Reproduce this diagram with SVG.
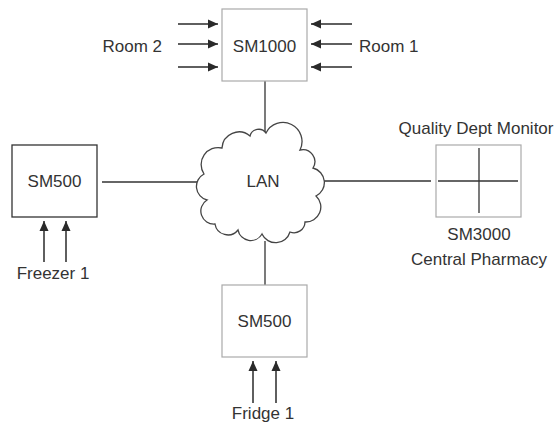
<svg xmlns="http://www.w3.org/2000/svg" width="560" height="424" viewBox="0 0 560 424">
<defs>
<marker id="ah" viewBox="0 0 10 10" refX="10" refY="5" markerWidth="10" markerHeight="10" markerUnits="userSpaceOnUse" orient="auto">
<path d="M0,0.5 L10,5 L0,9.5 Z" fill="#2a2a2a"/>
</marker>
</defs>
<style>
text{font-family:"Liberation Sans",Arial,sans-serif;font-size:17px;fill:#333}
.lt{fill:#fff;stroke:#aaa;stroke-width:1.2}
.dk{fill:#fff;stroke:#333;stroke-width:1.3}
.ln{stroke:#333;stroke-width:1.3;fill:none}
.ar{stroke:#2a2a2a;stroke-width:1.5;fill:none;marker-end:url(#ah)}
</style>
<rect width="560" height="424" fill="#fff"/>
<g id="connectors">
<line class="ln" x1="265" y1="81" x2="265" y2="133"/>
<line class="ln" x1="102" y1="182" x2="199" y2="182"/>
<line class="ln" x1="324" y1="181" x2="431" y2="181"/>
<line class="ln" x1="265" y1="241" x2="265" y2="285"/>
</g>
<g id="lan">
<path fill="#fff" stroke="#444" stroke-width="1.3" d="M222,148 A17,17 0 0 1 250,136 A9,9 0 0 1 266,133 A19,19 0 0 1 300,150 A12,12 0 0 1 313,168 A15,15 0 0 1 316,196 A15,15 0 0 1 305,222 A11,11 0 0 1 290,232 A15,15 0 0 1 262,234 A13,13 0 0 1 238,230 A13,13 0 0 1 215,224 A13,13 0 0 1 207,200 A14,14 0 0 1 204,174 A17,17 0 0 1 222,148 Z"/>
<text x="263" y="187" text-anchor="middle">LAN</text>
</g>
<g id="sm1000">
<rect class="lt" x="222" y="9" width="85" height="72"/>
<text x="264.5" y="52" text-anchor="middle">SM1000</text>
<line class="ar" x1="178" y1="24" x2="218" y2="24"/>
<line class="ar" x1="178" y1="44" x2="218" y2="44"/>
<line class="ar" x1="178" y1="67" x2="218" y2="67"/>
<line class="ar" x1="352" y1="24" x2="311" y2="24"/>
<line class="ar" x1="352" y1="44" x2="311" y2="44"/>
<line class="ar" x1="352" y1="67" x2="311" y2="67"/>
<text x="162" y="52" text-anchor="end">Room 2</text>
<text x="359" y="52">Room 1</text>
</g>
<g id="sm500-freezer">
<rect class="dk" x="12" y="145" width="85" height="72"/>
<text x="54.5" y="187" text-anchor="middle">SM500</text>
<line class="ar" x1="44" y1="262" x2="44" y2="221"/>
<line class="ar" x1="66" y1="262" x2="66" y2="221"/>
<text x="53" y="279" text-anchor="middle">Freezer 1</text>
</g>
<g id="sm3000">
<rect class="lt" x="436" y="145" width="85" height="72"/>
<line class="ln" x1="438" y1="181" x2="518" y2="181"/>
<line class="ln" x1="479" y1="148" x2="479" y2="213"/>
<text x="476" y="134" text-anchor="middle">Quality Dept Monitor</text>
<text x="479" y="240" text-anchor="middle">SM3000</text>
<text x="479" y="265" text-anchor="middle">Central Pharmacy</text>
</g>
<g id="sm500-fridge">
<rect class="lt" x="222" y="285" width="85" height="72"/>
<text x="264.5" y="327" text-anchor="middle">SM500</text>
<line class="ar" x1="253" y1="403" x2="253" y2="361"/>
<line class="ar" x1="276" y1="403" x2="276" y2="361"/>
<text x="263" y="419" text-anchor="middle">Fridge 1</text>
</g>
</svg>
